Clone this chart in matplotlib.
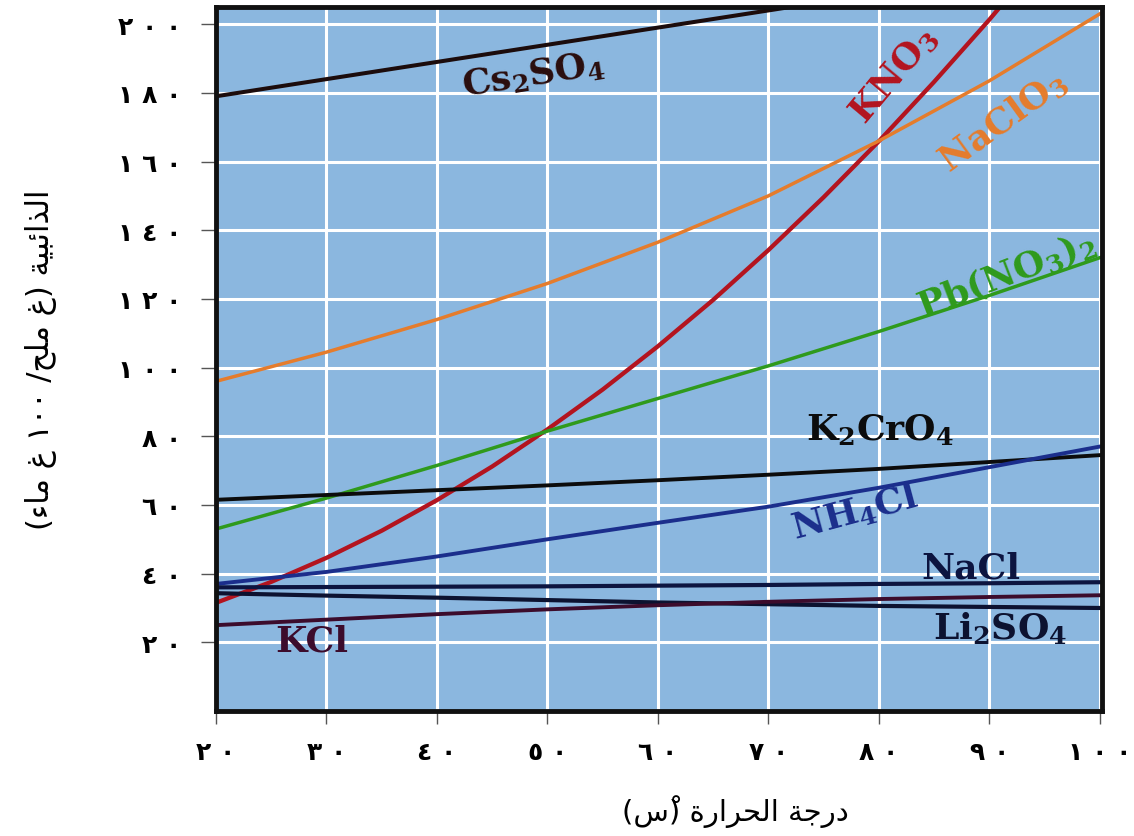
import matplotlib
matplotlib.use("Agg")
import matplotlib.pyplot as plt

# ---------------- data ----------------
temps = [20, 30, 40, 50, 60, 70, 80, 90, 100]
temps_kno3 = [20, 25, 30, 35, 40, 45, 50, 55, 60, 65, 70, 75, 80, 85, 90, 95]
temps_cs = [20, 30, 40, 50, 60, 70, 80]

cs2so4 = [179, 184, 189, 194, 199, 204, 209]
kno3 = [31.5, 37.6, 44.6, 52.5, 61.4, 71.2, 82, 93.6, 106.2, 119.7, 134.2, 149.6, 165.9, 183.2, 201.3, 220.4]
naclo3 = [96, 104.5, 114, 124.5, 136.5, 150, 166, 183.5, 203]
pbno32 = [53, 62, 71.5, 81.5, 91, 100.5, 110.5, 121, 132]
k2cro4 = [61.5, 62.9, 64.3, 65.7, 67.2, 68.8, 70.5, 72.5, 74.5]
nh4cl = [37, 40.5, 45, 50, 54.8, 59.5, 65, 71, 77]
nacl = [36, 36.1, 36.2, 36.3, 36.5, 36.7, 37, 37.2, 37.5]
li2so4 = [34.3, 33.6, 33, 32.3, 31.6, 31.1, 30.6, 30.3, 30]
kcl = [25, 26.6, 28.2, 29.6, 30.8, 31.8, 32.6, 33.2, 33.7]

x_ticks = [20, 30, 40, 50, 60, 70, 80, 90, 100]
x_tick_labels = ['٢٠', '٣٠', '٤٠', '٥٠', '٦٠', '٧٠', '٨٠', '٩٠', '١٠٠']
y_ticks = [20, 40, 60, 80, 100, 120, 140, 160, 180, 200]
y_tick_labels = ['٢٠', '٤٠', '٦٠', '٨٠', '١٠٠', '١٢٠', '١٤٠', '١٦٠', '١٨٠', '٢٠٠']

x_label = 'درجة الحرارة (سْ)'
y_label = 'الذائبية (غ ملح/ ١٠٠ غ ماء)'

# ---------------- minimal Arabic shaping for display ----------------
FORMS = {
    'ا': ('\uFE8D', '\uFE8E', None, None),
    'ب': ('\uFE8F', '\uFE90', '\uFE91', '\uFE92'),
    'ة': ('\uFE93', '\uFE94', None, None),
    'ج': ('\uFE9D', '\uFE9E', '\uFE9F', '\uFEA0'),
    'ح': ('\uFEA1', '\uFEA2', '\uFEA3', '\uFEA4'),
    'د': ('\uFEA9', '\uFEAA', None, None),
    'ذ': ('\uFEAB', '\uFEAC', None, None),
    'ر': ('\uFEAD', '\uFEAE', None, None),
    'س': ('\uFEB1', '\uFEB2', '\uFEB3', '\uFEB4'),
    'غ': ('\uFECD', '\uFECE', '\uFECF', '\uFED0'),
    'ل': ('\uFEDD', '\uFEDE', '\uFEDF', '\uFEE0'),
    'م': ('\uFEE1', '\uFEE2', '\uFEE3', '\uFEE4'),
    'ي': ('\uFEF1', '\uFEF2', '\uFEF3', '\uFEF4'),
    'ئ': ('\uFE89', '\uFE8A', '\uFE8B', '\uFE8C'),
    'ء': ('\uFE80', None, None, None),
}
MARKS = set('\u064B\u064C\u064D\u064E\u064F\u0650\u0651\u0652')
DIGITS = set('0123456789٠١٢٣٤٥٦٧٨٩')


def rtl(s):
    chars = list(s)
    n = len(chars)
    out = []
    for i, c in enumerate(chars):
        if c not in FORMS:
            out.append(c)
            continue
        j = i - 1
        while j >= 0 and chars[j] in MARKS:
            j -= 1
        k = i + 1
        while k < n and chars[k] in MARKS:
            k += 1
        iso, fin, ini, med = FORMS[c]
        prev_j = j >= 0 and chars[j] in FORMS and FORMS[chars[j]][2] is not None and fin is not None
        next_j = k < n and chars[k] in FORMS and FORMS[chars[k]][1] is not None and ini is not None
        if prev_j and next_j:
            f = med
        elif prev_j:
            f = fin
        elif next_j:
            f = ini
        else:
            f = iso
        out.append(f)
    clusters = []
    for c in out:
        if c in MARKS and clusters:
            clusters[-1] += c
        else:
            clusters.append(c)
    tokens = []
    i = 0
    while i < len(clusters):
        if clusters[i] in DIGITS:
            j = i
            while j < len(clusters) and clusters[j] in DIGITS:
                j += 1
            tokens.append(''.join(clusters[i:j]))
            i = j
        else:
            tokens.append(clusters[i])
            i += 1
    tokens.reverse()
    mirror = {'(': ')', ')': '('}
    return ''.join(mirror.get(t, t) for t in tokens)


def spaced(lbl):
    return ' '.join(list(lbl))


# ---------------- figure ----------------
plt.rcParams['mathtext.fontset'] = 'dejavuserif'
fig = plt.figure(figsize=(11.34, 8.37), dpi=100)
ax = fig.add_axes([216 / 1134, 1 - 712 / 837, (1102 - 216) / 1134, (712 - 8) / 837])
ax.set_facecolor('#8bb7df')
ax.set_xlim(20, 100.2)
ax.set_ylim(0, 205)

ax.set_xticks(x_ticks)
ax.set_yticks(y_ticks)
ax.grid(True, color='white', linewidth=2.2)
ax.set_axisbelow(True)

for sp in ax.spines.values():
    sp.set_linewidth(3.5)
    sp.set_color('#111111')

lw = 2.5
ax.plot(temps_cs, cs2so4, color='#1c0c0c', lw=lw + 0.4)
ax.plot(temps_kno3, kno3, color='#b3141f', lw=lw + 0.6)
ax.plot(temps, naclo3, color='#e57c2c', lw=lw)
ax.plot(temps, pbno32, color='#2f9a1c', lw=lw)
ax.plot(temps, k2cro4, color='#0c0c0c', lw=lw + 0.3)
ax.plot(temps, nh4cl, color='#1b2e8c', lw=lw + 0.3)
ax.plot(temps, nacl, color='#0c1440', lw=lw + 0.5)
ax.plot(temps, li2so4, color='#0c1230', lw=lw + 0.5)
ax.plot(temps, kcl, color='#3c0c2c', lw=lw + 0.3)

tf = dict(family='DejaVu Serif', weight='bold', fontsize=26, ha='center', va='center',
          rotation_mode='anchor')
ax.text(48.7, 185.5, r'Cs$_\mathbf{2}$SO$_\mathbf{4}$', color='#2a0d0d', rotation=9, **tf)
ax.text(81.3, 185.5, r'KNO$_\mathbf{3}$', color='#b3141f', rotation=50, **tf)
ax.text(91.2, 172, r'NaClO$_\mathbf{3}$', color='#e57c2c', rotation=36, **tf)
ax.text(91.5, 127.5, r'Pb(NO$_\mathbf{3}$)$_\mathbf{2}$', color='#2f9a1c', rotation=21, **tf)
ax.text(80.1, 82, r'K$_\mathbf{2}$CrO$_\mathbf{4}$', color='#0c0c0c', rotation=0, **tf)
ax.text(77.8, 58, r'NH$_\mathbf{4}$Cl', color='#1b2e8c', rotation=15, **tf)
ax.text(88.3, 41.8, 'NaCl', color='#0c1440', rotation=0, **tf)
ax.text(91.0, 24.3, r'Li$_\mathbf{2}$SO$_\mathbf{4}$', color='#0c1230', rotation=0, **tf)
ax.text(28.7, 20.6, 'KCl', color='#3c0c2c', rotation=0, **tf)

ax.set_xticklabels([spaced(t) for t in x_tick_labels], family='DejaVu Sans',
                   fontsize=18, fontweight='bold')
ax.set_yticklabels([spaced(t) for t in y_tick_labels], family='DejaVu Sans',
                   fontsize=18, fontweight='bold')
ax.tick_params(axis='y', length=11, width=1, color='#555555', pad=14)
ax.tick_params(axis='x', length=9, width=1, color='#555555', pad=12)

ax.set_xlabel(rtl(x_label), family='DejaVu Sans', fontsize=21)
ax.xaxis.set_label_coords(0.586, -0.118)
ax.set_ylabel(rtl(y_label), family='DejaVu Sans', fontsize=22)
ax.yaxis.set_label_coords(-0.18, 0.5)

fig.savefig('out.png', dpi=100)
